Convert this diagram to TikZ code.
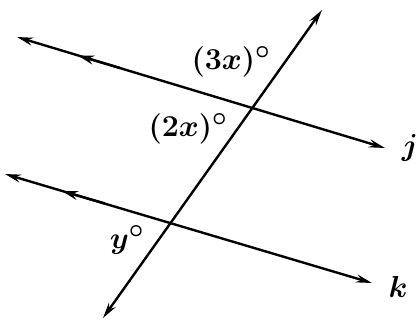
\documentclass[tikz,border=0pt]{standalone}
\usetikzlibrary{arrows.meta}
\newcommand{\biglbl}[1]{\scalebox{1.22}{\Huge\boldmath$#1$}}
\begin{document}
\begin{tikzpicture}[x=1pt,y=-1pt,
  ln/.style={line width=2.4pt,{Stealth[length=16pt,width=8pt]}-{Stealth[length=16pt,width=8pt]}},
  parmark/.style={line width=2.4pt,-{Stealth[length=16pt,width=9pt]}},
  lbl/.style={inner sep=0pt}]
\useasboundingbox (0,0) rectangle (420,325);
% lines
\coordinate (j1) at (17,37);
\coordinate (j2) at (385,148);
\coordinate (k1) at (5,174);
\coordinate (k2) at (372,283);
\coordinate (t1) at (322,10);
\coordinate (t2) at (103,318);
\draw[ln] (j1) -- (j2);
\draw[ln] (k1) -- (k2);
\draw[ln] (t2) -- (t1);
% parallel markers
\coordinate (ja) at (120,68);
\coordinate (jb) at (78,55.5);
\coordinate (ka) at (105,203.5);
\coordinate (kb) at (62,191);
\draw[parmark] (ja) -- (jb);
\draw[parmark] (ka) -- (kb);
% labels
\node[lbl] (l3) at (231,62) {\biglbl{(3x)^{\circ}}};
\node[lbl] (l2) at (188,129) {\biglbl{(2x)^{\circ}}};
\node[lbl] (ly) at (127,240) {\biglbl{y^{\circ}}};
\node[lbl] (lj) at (410,148) {\biglbl{j}};
\node[lbl] (lk) at (398,287) {\biglbl{k}};
\end{tikzpicture}
\end{document}
